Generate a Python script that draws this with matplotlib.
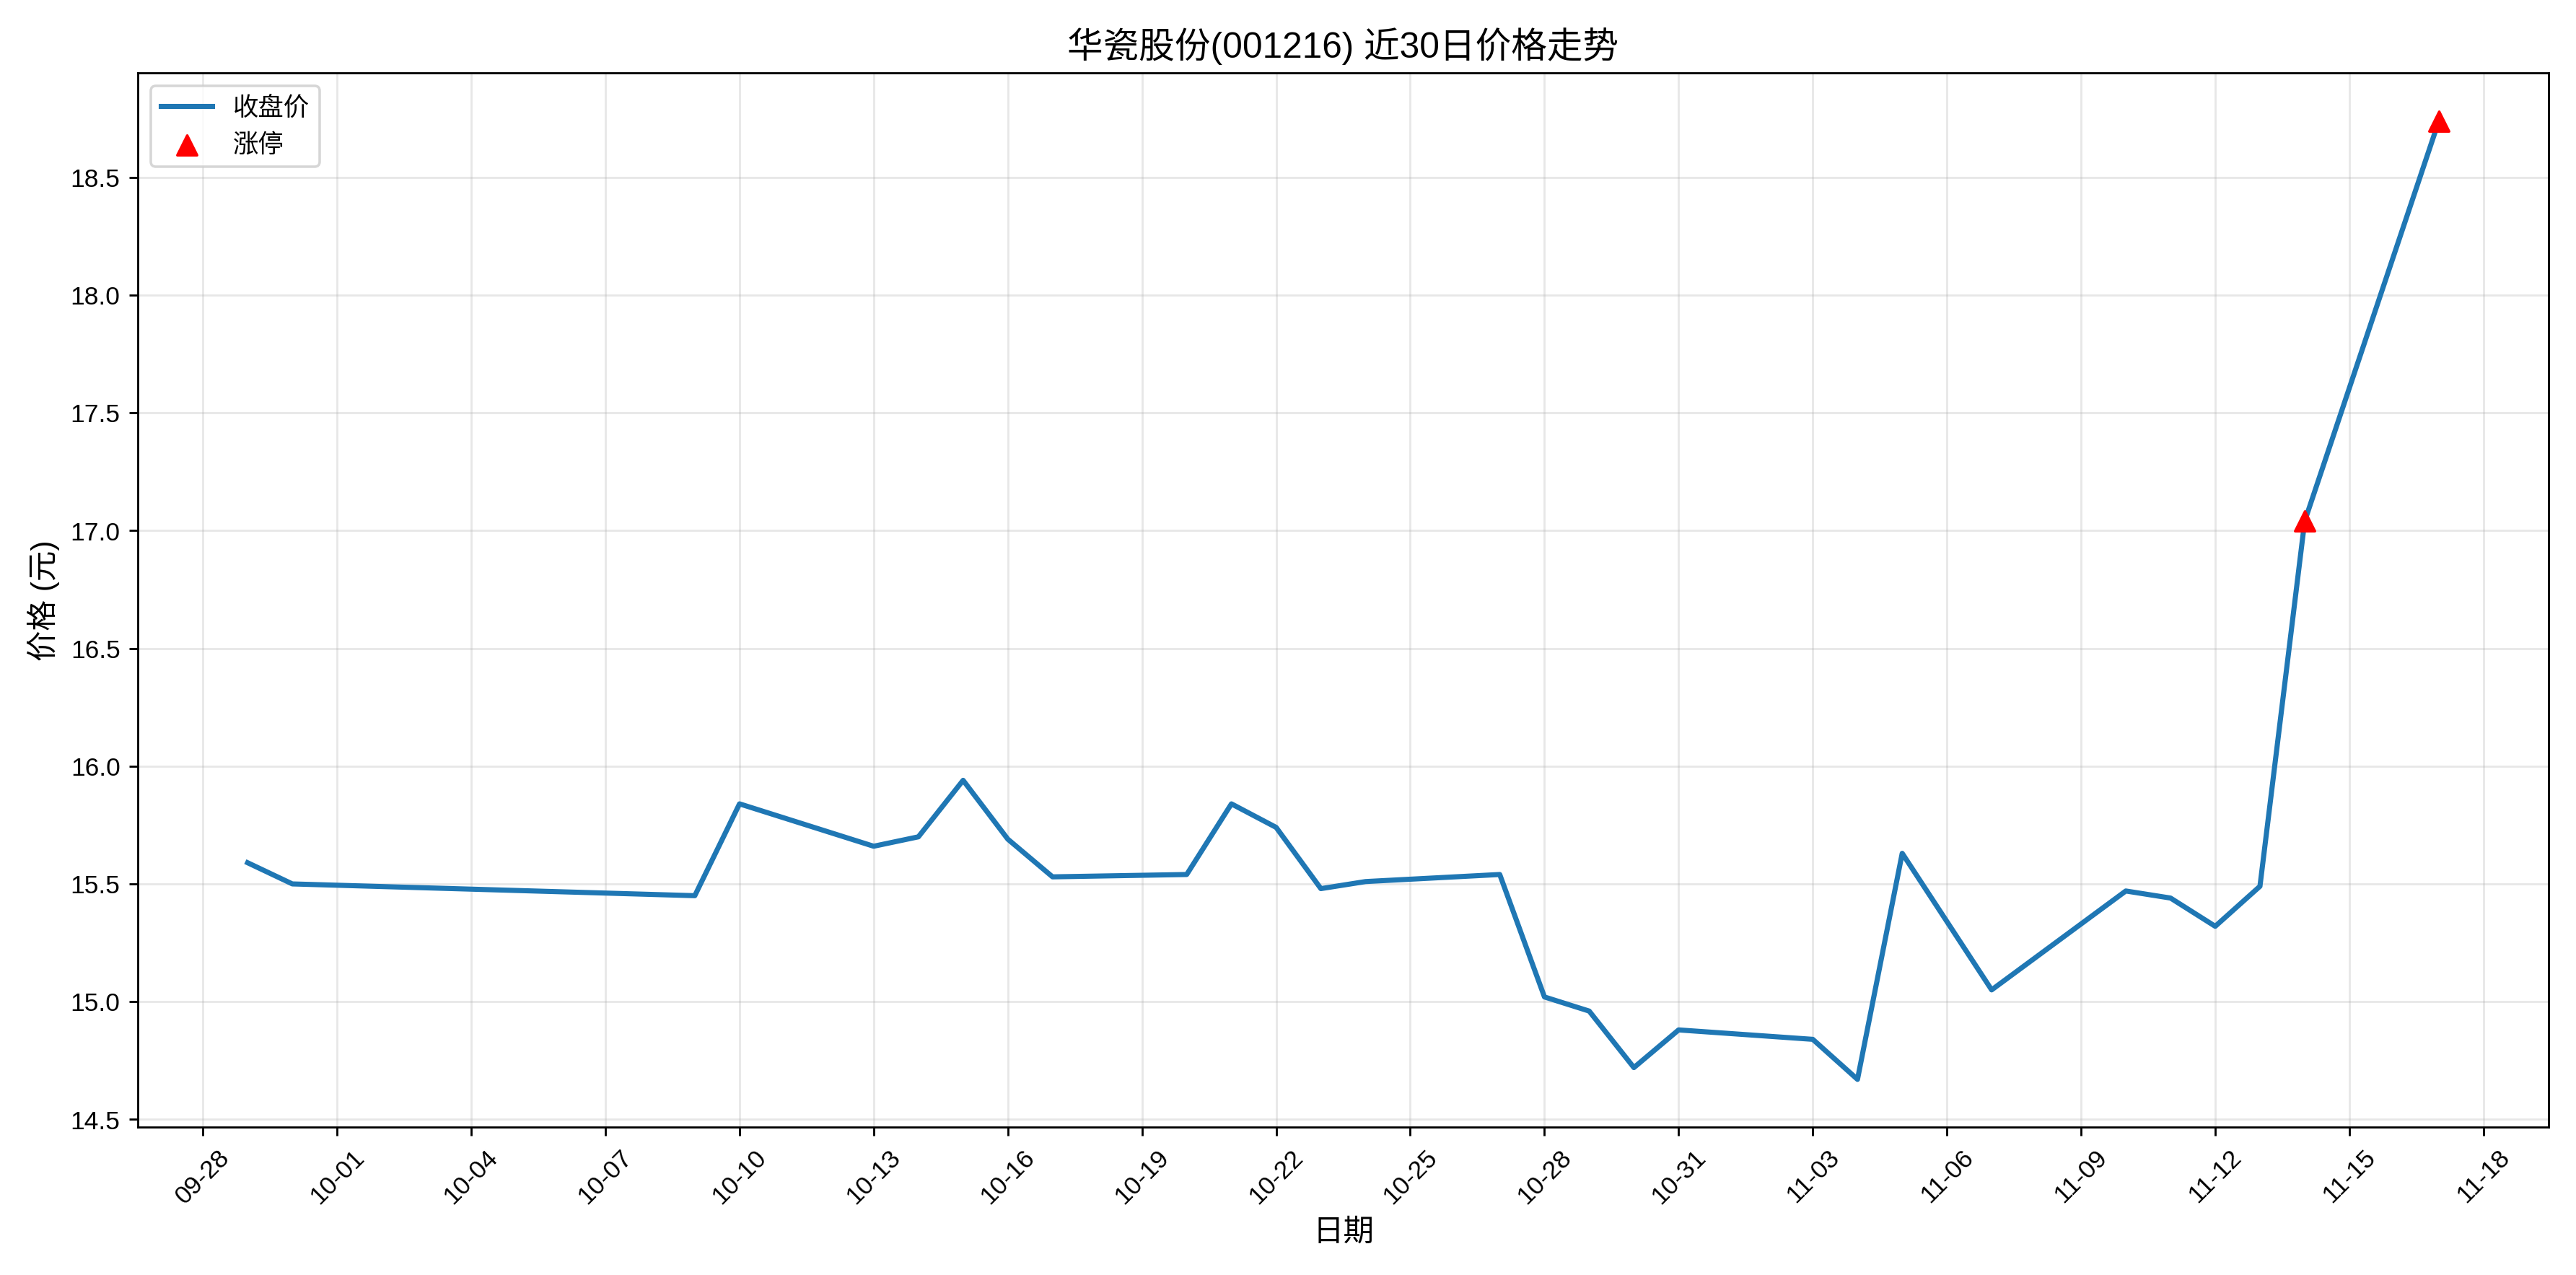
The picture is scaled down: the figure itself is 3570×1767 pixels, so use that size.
import matplotlib
matplotlib.use("Agg")
import matplotlib.pyplot as plt
import matplotlib.dates as mdates
import pandas as pd

plt.rcParams['font.family'] = ['Liberation Sans', 'Noto Sans CJK SC', 'DejaVu Sans']
plt.rcParams['axes.unicode_minus'] = False

dates = ["2025-09-29","2025-09-30","2025-10-09","2025-10-10","2025-10-13","2025-10-14","2025-10-15",
         "2025-10-16","2025-10-17","2025-10-20","2025-10-21","2025-10-22","2025-10-23","2025-10-24",
         "2025-10-27","2025-10-28","2025-10-29","2025-10-30","2025-10-31","2025-11-03","2025-11-04",
         "2025-11-05","2025-11-07","2025-11-10","2025-11-11","2025-11-12","2025-11-13","2025-11-14","2025-11-17"]
close = [15.59,15.50,15.45,15.84,15.66,15.70,15.94,15.69,15.53,15.54,15.84,15.74,15.48,15.51,
         15.54,15.02,14.96,14.72,14.88,14.84,14.67,15.63,15.05,15.47,15.44,15.32,15.49,17.04,18.74]
limit_dates = ["2025-11-14","2025-11-17"]
limit_prices = [17.04,18.74]

d = pd.to_datetime(dates)
ld = pd.to_datetime(limit_dates)

fig, ax = plt.subplots(figsize=(14, 6.93), dpi=255)
ax.plot(d, close, color='#1f77b4', linewidth=2, label='收盘价')
ax.scatter(ld, limit_prices, color='red', marker='^', s=60, zorder=5, label='涨停')
ax.set_title('华瓷股份(001216) 近30日价格走势', fontsize=14)
ax.set_xlabel('日期', fontsize=12)
ax.set_ylabel('价格 (元)', fontsize=12)
ax.set_xticks(pd.date_range('2025-09-28', periods=18, freq='3D'))
ax.xaxis.set_major_formatter(mdates.DateFormatter('%m-%d'))
plt.setp(ax.get_xticklabels(), rotation=45)
ax.grid(True, alpha=0.3)
ax.legend(loc='upper left')
fig.tight_layout()
fig.savefig('out.png')
